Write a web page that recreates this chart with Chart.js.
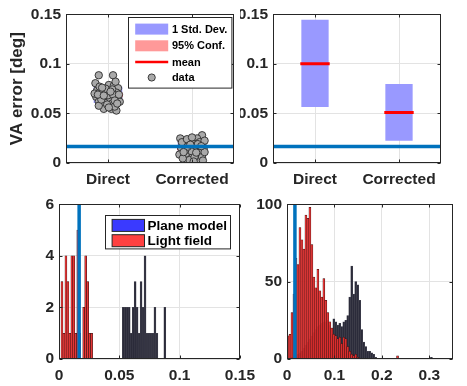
<!DOCTYPE html>
<html lang="en">
<head>
<meta charset="UTF-8">
<title>VA error</title>
<script src="https://cdn.jsdelivr.net/npm/chart.js@4"></script>
<style>
  html, body { margin: 0; padding: 0; background: #fff; }
  #wrap { position: relative; width: 467px; height: 386px; overflow: hidden; }
  #wrap canvas { position: absolute; }
</style>
</head>
<body>
<div id="wrap">
  <canvas id="tl" width="240" height="195" style="left:0;top:0"></canvas>
  <canvas id="tr" width="227" height="195" style="left:240px;top:0"></canvas>
  <canvas id="bl" width="262" height="196" style="left:0;top:190px"></canvas>
  <canvas id="br" width="217" height="196" style="left:250px;top:190px"></canvas>
</div>
<script>
// ---- data ----
const groups = ['Direct', 'Corrected'];
const threshold = 0.0167; // reference line (deg)

// top-left: individual points (x = jittered group position)
const directX = [0.89, 1.06, 0.85, 1.01, 1.07, 1.12, 0.87, 0.93, 0.98, 1.10, 0.86, 0.94, 1.02, 1.12, 0.89, 0.96, 1.05, 1.14, 0.95, 1.04,
                 1.10, 0.89, 1.08, 1.00, 0.84, 1.05, 0.97, 0.90, 1.09, 0.92, 1.06, 1.13, 0.99, 0.88, 1.03, 0.95, 1.08, 1.01, 0.93, 1.11];
const directY = [0.0885, 0.0885, 0.0805, 0.0787, 0.0780, 0.0755, 0.0732, 0.0710, 0.0715, 0.0710, 0.0667, 0.0657, 0.0650, 0.0657, 0.0618, 0.0608, 0.0601, 0.0618, 0.0546, 0.0546,
                 0.0529, 0.0578, 0.0569, 0.0683, 0.0700, 0.0742, 0.0750, 0.0770, 0.0820, 0.0640, 0.0690, 0.0690, 0.0590, 0.0690, 0.0720, 0.0680, 0.0630, 0.0560, 0.0760, 0.0600];
const correctedX = [1.86, 2.12, 2.06, 1.99, 1.91, 2.02, 2.09, 1.87, 1.96, 2.06, 2.14, 1.85, 1.93, 2.01, 2.09, 1.97, 2.08, 2.12, 1.89, 1.99,
                    2.15, 1.92, 2.04, 1.88, 2.07, 1.94, 2.15, 2.00, 2.03, 1.95, 2.11, 1.90, 2.05, 1.98, 2.13, 2.02];
const correctedY = [0.0248, 0.0280, 0.0248, 0.0225, 0.0199, 0.0193, 0.0210, 0.0154, 0.0137, 0.0137, 0.0154, 0.0085, 0.0095, 0.0080, 0.0101, 0.0030, 0.0036, 0.0060, 0.0046, 0.0121,
                    0.0110, 0.0130, 0.0176, 0.0210, 0.0190, 0.0240, 0.0225, 0.0258, 0.0060, 0.0165, 0.0170, 0.0110, 0.0105, 0.0185, 0.0025, 0.0015];

// top-left summaries
const tlSdLo = [0.0605, 0.0075];
const tlSdHi = [0.0770, 0.0220];
const tlCiLo = [0.0660, 0.0120];
const tlCiHi = [0.0715, 0.0172];
const tlMean = [0.0687, 0.0146];

// top-right summaries
const trSdLo = [0.0565, 0.0225];
const trSdHi = [0.1445, 0.0797];
const trMean = [0.1000, 0.0510];

// bottom-left histogram (counts per bin)
const blBinWidth = 0.00164;
const blLight = [0, 3, 1, 4, 3, 1, 4, 4, 1, 5, 1, 0, 2, 4, 3, 1, 1];
const blPlaneStart = 32;
const blPlane = [2, 2, 2, 2, 1, 2, 3, 2, 1, 3, 2, 4, 1, 1, 1, 1, 2, 1, 0, 0, 0, 2];

// bottom-right histogram (counts per bin)
const brBinWidth = 0.0042;
const brLight = [15, 16, 30, 42, 65, 61, 85, 77, 71, 93, 91, 98, 74, 53, 46, 58, 44, 40, 52, 38,
                 30, 24, 20, 16, 15, 13, 14, 10, 14, 13, 8, 5, 3, 2, 3, 1];
const brPlane = [0, 0, 1, 1, 2, 3, 4, 5, 7, 9, 11, 13, 15, 17, 19, 21, 22, 23, 24, 24,
                 25, 22, 20, 26, 24, 22, 23, 21, 24, 25, 28, 40, 60, 42, 50, 48, 38, 19, 11, 8,
                 5, 5, 4, 3, 1];
const brLightOutBins = [55];
const brLightOutCounts = [2];
const brPlaneOutBins = [72];
const brPlaneOutCounts = [1];

// ticks
const topYTicks = [0, 0.05, 0.1, 0.15];
const groupTicks = [1, 2];
const blXTicks = [0, 0.05, 0.1, 0.15];
const blYTicks = [0, 2, 4, 6];
const brXTicks = [0, 0.1, 0.2, 0.3];
const brYTicks = [0, 50, 100];

// ---- helpers ----
const FAMILY = '"Liberation Sans", Arial, Helvetica, sans-serif';
const font = (size) => ({ family: FAMILY, size: size, weight: 'bold' });
const fmt = (v) => String(+Number(v).toFixed(4));
const meanHalf = 0.175;

function toBars(counts, startBin, width) {
  return counts.map((c, i) => ({ x: (startBin + i + 0.5) * width, y: c })).filter(p => p.y > 0);
}
function outBars(bins, counts, width) {
  return bins.map((b, i) => ({ x: (b + 0.5) * width, y: counts[i] }));
}
function meanSegments(means) {
  return means.flatMap((m, i) => [
    { x: i + 1 - meanHalf, y: m }, { x: i + 1 + meanHalf, y: m }, { x: i + 1.5, y: null }
  ]);
}
function floatBars(lo, hi) {
  return lo.map((v, i) => ({ x: i + 1, y: [v, hi[i]] }));
}

function makeScales(o) {
  return {
    x: {
      type: 'linear', min: o.xMin, max: o.xMax, offset: false,
      afterBuildTicks: (s) => { s.ticks = o.xTicks.map(v => ({ value: v })); },
      afterFit: (s) => { s.height = o.xHeight; },
      grid: { color: '#e3e3e3', drawTicks: false, offset: false },
      border: { display: false },
      ticks: { color: '#262626', font: font(15.5), padding: 7, maxRotation: 0, autoSkip: false, callback: o.xFmt || fmt }
    },
    y: {
      type: 'linear', min: o.yMin, max: o.yMax,
      afterBuildTicks: (s) => { s.ticks = o.yTicks.map(v => ({ value: v })); },
      afterFit: (s) => { s.width = o.yWidth; },
      grid: { color: '#e3e3e3', drawTicks: false },
      border: { display: false },
      ticks: { color: '#262626', font: font(15.5), padding: 5, autoSkip: false, callback: fmt },
      title: o.yTitle ? { display: true, text: o.yTitle, color: '#262626', font: font(17), padding: { top: 7, bottom: 0 } } : { display: false }
    }
  };
}

// box with inward ticks on all four sides
const frame = {
  id: 'frame',
  afterDraw(chart) {
    const { ctx, chartArea: a, scales } = chart;
    const L = Math.round(a.left) + 0.5, R = Math.round(a.right) - 0.5;
    const T = Math.round(a.top) + 0.5, B = Math.round(a.bottom) - 0.5;
    ctx.save();
    ctx.strokeStyle = '#262626';
    ctx.lineWidth = 1;
    ctx.strokeRect(L, T, R - L, B - T);
    ctx.beginPath();
    scales.x.ticks.forEach(t => {
      const px = Math.round(scales.x.getPixelForValue(t.value)) + 0.5;
      ctx.moveTo(px, B); ctx.lineTo(px, B - 3);
      ctx.moveTo(px, T); ctx.lineTo(px, T + 3);
    });
    scales.y.ticks.forEach(t => {
      const py = Math.round(scales.y.getPixelForValue(t.value)) + 0.5;
      ctx.moveTo(L, py); ctx.lineTo(L + 3, py);
      ctx.moveTo(R, py); ctx.lineTo(R - 3, py);
    });
    ctx.stroke();
    ctx.restore();
  }
};

// the blue reference line
const refLine = {
  id: 'refLine',
  afterDatasetsDraw(chart, args, opts) {
    const { ctx, chartArea: a, scales } = chart;
    ctx.save();
    ctx.strokeStyle = '#0072BD';
    ctx.lineWidth = 3.5;
    ctx.beginPath();
    if (opts.dir === 'h') {
      const y = scales.y.getPixelForValue(opts.value);
      ctx.moveTo(a.left, y); ctx.lineTo(a.right, y);
    } else {
      const x = scales.x.getPixelForValue(opts.value);
      ctx.moveTo(x, a.top); ctx.lineTo(x, a.bottom);
    }
    ctx.stroke();
    ctx.restore();
  }
};

// MATLAB-like legend box inside the axes
const boxLegend = {
  id: 'boxLegend',
  afterDraw(chart, args, o) {
    if (!o.items) return;
    const { ctx, chartArea: a } = chart;
    const x0 = Math.round(a.right - o.right - o.width) + 0.5;
    const y0 = Math.round(a.top + o.top) + 0.5;
    ctx.save();
    ctx.fillStyle = '#fff';
    ctx.strokeStyle = '#262626';
    ctx.lineWidth = 1;
    ctx.fillRect(x0, y0, o.width, o.height);
    ctx.strokeRect(x0, y0, o.width, o.height);
    ctx.font = 'bold ' + o.fontSize + 'px ' + FAMILY;
    ctx.textBaseline = 'middle';
    o.items.forEach((it, i) => {
      const cy = y0 + o.rowY[i];
      const ix = x0 + o.iconX;
      if (it.kind === 'patch') {
        ctx.fillStyle = it.color;
        ctx.fillRect(ix, cy - o.iconH / 2, o.iconW, o.iconH);
        if (it.border) {
          ctx.strokeStyle = it.border;
          ctx.strokeRect(ix, cy - o.iconH / 2, o.iconW, o.iconH);
        }
      } else if (it.kind === 'line') {
        ctx.strokeStyle = it.color;
        ctx.lineWidth = 2.5;
        ctx.beginPath(); ctx.moveTo(ix, cy); ctx.lineTo(ix + o.iconW, cy); ctx.stroke();
        ctx.lineWidth = 1;
      } else {
        ctx.beginPath();
        ctx.arc(ix + o.iconW / 2, cy, 3.6, 0, Math.PI * 2);
        ctx.fillStyle = it.color; ctx.fill();
        ctx.strokeStyle = it.border; ctx.lineWidth = 0.9; ctx.stroke();
        ctx.lineWidth = 1;
      }
      ctx.fillStyle = '#000';
      ctx.fillText(it.label, x0 + o.textX, cy + 0.5);
    });
    ctx.restore();
  }
};

const common = { responsive: false, animation: false, devicePixelRatio: 1 };
const noUi = { legend: { display: false }, tooltip: { enabled: false } };

// ---- top-left ----
new Chart(document.getElementById('tl'), {
  type: 'bar',
  data: {
    datasets: [
      { type: 'bar', label: '1 Std. Dev.', data: floatBars(tlSdLo, tlSdHi), backgroundColor: '#9999ff', borderWidth: 0,
        grouped: false, barPercentage: 1, categoryPercentage: 0.34, order: 5 },
      { type: 'bar', label: '95% Conf.', data: floatBars(tlCiLo, tlCiHi), backgroundColor: '#ff9999', borderWidth: 0,
        grouped: false, barPercentage: 1, categoryPercentage: 0.34, order: 4 },
      { type: 'line', label: 'mean', data: meanSegments(tlMean), borderColor: '#ff0000', borderWidth: 3,
        pointRadius: 0, spanGaps: false, order: 3 },
      { type: 'line', label: 'data', showLine: false, order: 2,
        data: directX.map((x, i) => ({ x: x, y: directY[i] })).concat(correctedX.map((x, i) => ({ x: x, y: correctedY[i] }))),
        pointRadius: 3.7, pointBackgroundColor: '#a9a9a9', pointBorderColor: '#2b2b2b', pointBorderWidth: 0.9 }
    ]
  },
  options: Object.assign({}, common, {
    layout: { padding: { top: 10, right: 6, left: 0, bottom: 0 } },
    plugins: Object.assign({}, noUi, {
      refLine: { value: threshold, dir: 'h' },
      boxLegend: {
        right: 2.3, top: 2.7, width: 103.4, height: 70.6, fontSize: 11,
        iconX: 6.7, iconW: 33, iconH: 11, textX: 43.4, rowY: [11.6, 28.3, 44.6, 60],
        items: [
          { label: '1 Std. Dev.', kind: 'patch', color: '#9999ff' },
          { label: '95% Conf.', kind: 'patch', color: '#ff9999' },
          { label: 'mean', kind: 'line', color: '#ff0000' },
          { label: 'data', kind: 'dot', color: '#a9a9a9', border: '#2b2b2b' }
        ]
      }
    }),
    scales: makeScales({ xMin: 0.5, xMax: 2.5, xTicks: groupTicks, xFmt: (v) => groups[v - 1], xHeight: 32,
      yMin: 0, yMax: 0.15, yTicks: topYTicks, yWidth: 66, yTitle: 'VA error [deg]' })
  }),
  plugins: [frame, refLine, boxLegend]
});

// ---- top-right ----
new Chart(document.getElementById('tr'), {
  type: 'bar',
  data: {
    datasets: [
      { type: 'bar', label: '1 Std. Dev.', data: floatBars(trSdLo, trSdHi), backgroundColor: '#9999ff', borderWidth: 0,
        grouped: false, barPercentage: 1, categoryPercentage: 0.325, order: 5 },
      { type: 'line', label: 'mean', data: meanSegments(trMean), borderColor: '#ff0000', borderWidth: 3,
        pointRadius: 0, spanGaps: false, order: 3 }
    ]
  },
  options: Object.assign({}, common, {
    layout: { padding: { top: 10, right: 26, left: 0, bottom: 0 } },
    plugins: Object.assign({}, noUi, { refLine: { value: threshold, dir: 'h' } }),
    scales: makeScales({ xMin: 0.5, xMax: 2.5, xTicks: groupTicks, xFmt: (v) => groups[v - 1], xHeight: 32,
      yMin: 0, yMax: 0.15, yTicks: topYTicks, yWidth: 33 })
  }),
  plugins: [frame, refLine]
});

// ---- histograms ----
const lightStyle = { backgroundColor: 'rgba(250,48,48,0.86)', borderColor: '#2a1616', borderWidth: 0.5,
  grouped: false, barPercentage: 1, categoryPercentage: 1, order: 1 };
const planeStyle = { backgroundColor: '#2b2b3a', borderColor: '#4a4a55', borderWidth: 0.5,
  grouped: false, barPercentage: 1, categoryPercentage: 1, order: 2 };
const histLegend = {
  right: 10.3, top: 10.3, width: 125, height: 33.4, fontSize: 13.5,
  iconX: 6.6, iconW: 32.4, iconH: 12, textX: 42, rowY: [9.9, 25.2],
  items: [
    { label: 'Plane model', kind: 'patch', color: '#3a3aff', border: '#262626' },
    { label: 'Light field', kind: 'patch', color: '#ff4040', border: '#262626' }
  ]
};

new Chart(document.getElementById('bl'), {
  type: 'bar',
  data: {
    datasets: [
      Object.assign({ label: 'Light field', data: toBars(blLight, 0, blBinWidth) }, lightStyle),
      Object.assign({ label: 'Plane model', data: toBars(blPlane, blPlaneStart, blBinWidth) }, planeStyle)
    ]
  },
  options: Object.assign({}, common, {
    layout: { padding: { top: 12, right: 20, left: 0, bottom: 0 } },
    plugins: Object.assign({}, noUi, { refLine: { value: threshold, dir: 'v' }, boxLegend: histLegend }),
    scales: makeScales({ xMin: 0, xMax: 0.15, xTicks: blXTicks, xHeight: 27,
      yMin: 0, yMax: 6, yTicks: blYTicks, yWidth: 59 })
  }),
  plugins: [frame, refLine, boxLegend]
});

new Chart(document.getElementById('br'), {
  type: 'bar',
  data: {
    datasets: [
      Object.assign({ label: 'Light field',
        data: toBars(brLight, 0, brBinWidth).concat(outBars(brLightOutBins, brLightOutCounts, brBinWidth)) }, lightStyle),
      Object.assign({ label: 'Plane model',
        data: toBars(brPlane, 0, brBinWidth).concat(outBars(brPlaneOutBins, brPlaneOutCounts, brBinWidth)) }, planeStyle)
    ]
  },
  options: Object.assign({}, common, {
    layout: { padding: { top: 12, right: 14, left: 0, bottom: 0 } },
    plugins: Object.assign({}, noUi, { refLine: { value: threshold, dir: 'v' } }),
    scales: makeScales({ xMin: 0, xMax: 0.35, xTicks: brXTicks, xHeight: 27,
      yMin: 0, yMax: 100, yTicks: brYTicks, yWidth: 37 })
  }),
  plugins: [frame, refLine]
});
</script>
</body>
</html>
